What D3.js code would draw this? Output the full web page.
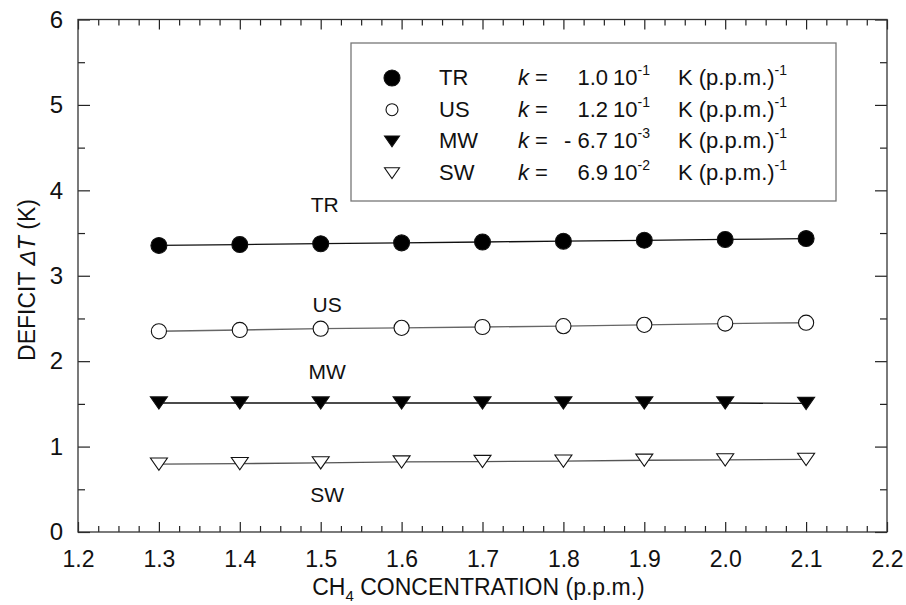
<!DOCTYPE html>
<html>
<head>
<meta charset="utf-8">
<script src="https://cdn.jsdelivr.net/npm/d3@7"></script>
<style>
  body { margin: 0; background: #fff; }
  text { font-family: "Liberation Sans", Arial, sans-serif; fill: #111; }
</style>
</head>
<body>
<script>
// CH4 concentration (p.p.m.)
const conc = [1.3, 1.4, 1.5, 1.6, 1.7, 1.8, 1.9, 2.0, 2.1];

// deficit dT (K) per region
const trValues = [3.355, 3.365, 3.375, 3.385, 3.395, 3.405, 3.415, 3.425, 3.435];
const usValues = [2.35, 2.365, 2.38, 2.39, 2.40, 2.41, 2.425, 2.44, 2.45];
const mwValues = [1.51, 1.51, 1.51, 1.51, 1.51, 1.51, 1.51, 1.51, 1.505];
const swValues = [0.795, 0.80, 0.81, 0.82, 0.825, 0.83, 0.84, 0.845, 0.85];

const seriesNames = ["TR", "US", "MW", "SW"];
const kMantissa = ["1.0", "1.2", "- 6.7", "6.9"];
const kExponent = ["-1", "-1", "-3", "-2"];

const xTicks = [1.2, 1.3, 1.4, 1.5, 1.6, 1.7, 1.8, 1.9, 2.0, 2.1, 2.2];
const yTicks = [0, 1, 2, 3, 4, 5, 6];

const W = 906, H = 605;
const margin = { top: 19.5, right: 19, bottom: 73, left: 78 };
const width = W - margin.left - margin.right;
const height = H - margin.top - margin.bottom;

const svg = d3.select("body").append("svg")
    .attr("width", W)
    .attr("height", H);

const g = svg.append("g")
    .attr("transform", "translate(" + margin.left + "," + margin.top + ")");

const x = d3.scaleLinear().domain([1.2, 2.2]).range([0, width]);
const y = d3.scaleLinear().domain([0, 6]).range([height, 0]);

const xMinor = d3.range(1.2, 2.2001, 0.025).filter(v => Math.abs(v * 10 - Math.round(v * 10)) > 1e-6);
const yMinor = d3.range(0.5, 6, 1);

// minor ticks (all four sides, pointing inward)
g.append("g").attr("transform", "translate(0," + height + ")")
    .call(d3.axisBottom(x).tickValues(xMinor).tickSize(-6).tickFormat(""));
g.append("g")
    .call(d3.axisTop(x).tickValues(xMinor).tickSize(-6).tickFormat(""));
g.append("g")
    .call(d3.axisLeft(y).tickValues(yMinor).tickSize(-7).tickFormat(""));
g.append("g").attr("transform", "translate(" + width + ",0)")
    .call(d3.axisRight(y).tickValues(yMinor).tickSize(-7).tickFormat(""));

// major ticks
const xAxis = g.append("g").attr("transform", "translate(0," + height + ")")
    .call(d3.axisBottom(x).tickValues(xTicks).tickSize(-10).tickPadding(19).tickFormat(d3.format(".1f")));
g.append("g")
    .call(d3.axisTop(x).tickValues(xTicks).tickSize(-10).tickFormat(""));
const yAxis = g.append("g")
    .call(d3.axisLeft(y).tickValues(yTicks).tickSize(-12).tickPadding(15).tickFormat(d3.format("d")));
g.append("g").attr("transform", "translate(" + width + ",0)")
    .call(d3.axisRight(y).tickValues(yTicks).tickSize(-12).tickFormat(""));

g.selectAll(".domain").remove();
g.selectAll(".tick line").attr("stroke", "#222").attr("stroke-width", 1.2);

xAxis.selectAll("text")
    .style("font-size", "23px")
    .attr("fill", "#111");
yAxis.selectAll("text")
    .style("font-size", "24px")
    .attr("fill", "#111")
    .attr("x", -15);

// frame
g.append("rect")
    .attr("width", width).attr("height", height)
    .attr("fill", "none").attr("stroke", "#333").attr("stroke-width", 1.3);

// axis titles
const xt = svg.append("text")
    .attr("x", margin.left + width / 2 - 4)
    .attr("y", 595)
    .attr("text-anchor", "middle")
    .style("font-size", "23px");
xt.append("tspan").text("CH");
xt.append("tspan").attr("dy", 6).style("font-size", "15px").text("4");
xt.append("tspan").attr("dy", -6).text(" CONCENTRATION (p.p.m.)");

const yt = svg.append("text")
    .attr("transform", "translate(35,280) rotate(-90)")
    .attr("text-anchor", "middle")
    .style("font-size", "23px");
yt.append("tspan").text("DEFICIT ");
yt.append("tspan").style("font-style", "italic").text("\u0394T");
yt.append("tspan").text(" (K)");

// series
const series = [
    { name: "TR", values: trValues, line: "#111", shape: d3.symbolCircle, fill: "#000", size: 200 },
    { name: "US", values: usValues, line: "#666", shape: d3.symbolCircle, fill: "#fff", size: 180 },
    { name: "MW", values: mwValues, line: "#111", shape: "down", fill: "#000", size: 17 },
    { name: "SW", values: swValues, line: "#555", shape: "down", fill: "#fff", size: 17 }
];

const line = d3.line().x((d, i) => x(conc[i])).y(d => y(d));

function triPath(w) {
    const h = w * 0.72;
    return "M" + (-w / 2) + "," + (-h / 2) + "L" + (w / 2) + "," + (-h / 2) + "L0," + (h / 2) + "Z";
}

function drawMarker(sel, s, scale) {
    if (s.shape === "down") {
        sel.append("path").attr("d", triPath(s.size * scale))
            .attr("fill", s.fill).attr("stroke", "#111").attr("stroke-width", 1.1);
    } else {
        sel.append("path").attr("d", d3.symbol().type(s.shape).size(s.size * scale * scale)())
            .attr("fill", s.fill).attr("stroke", "#111").attr("stroke-width", 1.1);
    }
}

series.forEach(s => {
    g.append("path")
        .datum(s.values)
        .attr("d", line)
        .attr("fill", "none")
        .attr("stroke", s.line)
        .attr("stroke-width", 1.3);
    s.values.forEach((v, i) => {
        const m = g.append("g").attr("transform", "translate(" + x(conc[i]) + "," + y(v) + ")");
        drawMarker(m, s, 1);
    });
});

// curve labels
const labelPos = [
    { name: "TR", x: 1.505, v: 3.746 },
    { name: "US", x: 1.508, v: 2.576 },
    { name: "MW", x: 1.508, v: 1.79 },
    { name: "SW", x: 1.508, v: 0.35 }
];
labelPos.forEach(l => {
    g.append("text")
        .attr("x", x(l.x))
        .attr("y", y(l.v))
        .attr("text-anchor", "middle")
        .style("font-size", "21px")
        .text(l.name);
});

// legend
const legend = svg.append("g").attr("transform", "translate(351,43)");
legend.append("rect")
    .attr("width", 485).attr("height", 158)
    .attr("fill", "#fff").attr("stroke", "#777").attr("stroke-width", 1.3);

const legendScale = [1, 0.79, 0.88, 0.88];
series.forEach((s, i) => {
    const cy = 35 + i * 31.7;
    const m = legend.append("g").attr("transform", "translate(41," + cy + ")");
    drawMarker(m, s, legendScale[i]);

    const base = cy + 7;
    legend.append("text").attr("x", 88).attr("y", base).style("font-size", "22px").text(seriesNames[i]);
    const kt = legend.append("text").attr("x", 167).attr("y", base).style("font-size", "22px");
    kt.append("tspan").style("font-style", "italic").text("k");
    kt.append("tspan").text(" =");

    legend.append("text").attr("x", 257).attr("y", base).attr("text-anchor", "end")
        .style("font-size", "22px").text(kMantissa[i]);
    const pw = legend.append("text").attr("x", 262).attr("y", base).style("font-size", "22px");
    pw.append("tspan").text("10");
    pw.append("tspan").attr("dy", -10).style("font-size", "14px").text(kExponent[i]);

    const ut = legend.append("text").attr("x", 327).attr("y", base).style("font-size", "22px");
    ut.append("tspan").text("K (p.p.m.)");
    ut.append("tspan").attr("dy", -10).style("font-size", "14px").text("-1");
});
</script>
</body>
</html>
